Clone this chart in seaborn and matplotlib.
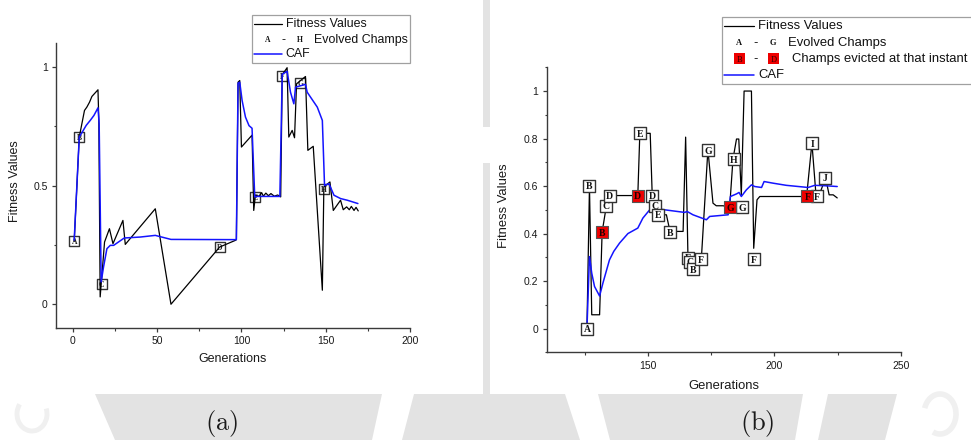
import matplotlib
matplotlib.use("Agg")
import matplotlib.pyplot as plt
import seaborn as sns
from matplotlib.patches import Rectangle, Polygon, Arc
from matplotlib.lines import Line2D
from matplotlib.ticker import MultipleLocator, FuncFormatter

# ---------------- run (a) ----------------
gen_a = [0.8, 3.8, 6.9, 8.3, 9.9, 11.3, 14.9, 15.4, 16.2, 18.8, 21.7, 23.8, 29.7, 31.1,
         48.9, 58.2, 87.1, 96.4, 97.0, 98.0, 99.0, 100.0, 106.3, 107.3, 108.3, 110.5,
         112.0, 113.0, 114.5, 116.0, 117.5, 119.5, 121.5, 123.3, 124.2, 127.1, 128.1,
         130.1, 131.5, 132.7, 138.0, 139.4, 142.6, 148.0, 148.9, 152.5, 154.5, 158.8,
         160.4, 162.4, 164.0, 165.2, 166.8, 168.0, 169.3]
fit_a = [0.265, 0.704, 0.816, 0.830, 0.851, 0.875, 0.903, 0.774, 0.031, 0.262, 0.318,
         0.255, 0.353, 0.252, 0.402, 0.0, 0.241, 0.269, 0.272, 0.935, 0.942, 0.662,
         0.712, 0.395, 0.459, 0.455, 0.470, 0.455, 0.468, 0.457, 0.466, 0.455, 0.460,
         0.452, 0.966, 0.996, 0.704, 0.732, 0.701, 0.928, 0.959, 0.648, 0.665, 0.059,
         0.494, 0.515, 0.395, 0.438, 0.398, 0.410, 0.398, 0.412, 0.395, 0.408, 0.393]

caf_gen_a = [0.8, 3.8, 6.0, 7.9, 10.3, 12.5, 14.9, 15.6, 16.8, 18.2, 20.2, 22.2, 24.2,
             30.5, 40.0, 48.9, 50.5, 58.2, 97.0, 98.0, 99.0, 100.4, 102.4, 104.5, 106.3,
             107.9, 109.3, 122.8, 124.2, 127.1, 129.1, 131.1, 132.1, 138.0, 139.0, 145.0,
             148.0, 149.3, 151.9, 154.9, 158.8, 162.8, 169.1]
caf_a = [0.27, 0.704, 0.730, 0.753, 0.774, 0.795, 0.827, 0.760, 0.094, 0.157, 0.234,
         0.248, 0.248, 0.279, 0.283, 0.290, 0.287, 0.273, 0.272, 0.931, 0.935, 0.858,
         0.788, 0.752, 0.741, 0.452, 0.454, 0.454, 0.968, 0.981, 0.893, 0.844, 0.914,
         0.926, 0.893, 0.830, 0.774, 0.500, 0.508, 0.459, 0.445, 0.438, 0.424]

champ_a = ["A", "B", "C", "D", "E", "F", "G", "H"]
champ_gen_a = [0.8, 3.8, 17.0, 87.1, 108.3, 124.0, 135.0, 148.7]
champ_fit_a = [0.265, 0.704, 0.086, 0.241, 0.452, 0.963, 0.933, 0.487]

# ---------------- run (b) ----------------
gen_b = [125.9, 126.9, 127.8, 130.9, 131.9, 133.6, 134.8, 146.0, 146.8, 150.9, 151.7,
         152.9, 154.0, 157.3, 158.3, 158.6, 163.9, 164.9, 165.8, 166.8, 167.8, 171.1,
         173.7, 175.7, 177.0, 179.7, 182.3, 183.6, 185.0, 185.9, 186.9, 188.0, 190.9,
         191.8, 193.1, 194.2, 212.7, 214.8, 216.3, 218.2, 220.2, 221.6, 223.2, 224.8]
fit_b = [0.0, 0.598, 0.058, 0.058, 0.406, 0.518, 0.560, 0.560, 0.822, 0.822, 0.560,
         0.518, 0.479, 0.479, 0.430, 0.409, 0.409, 0.806, 0.310, 0.270, 0.255, 0.292,
         0.753, 0.528, 0.517, 0.517, 0.511, 0.713, 0.798, 0.798, 0.563, 1.0, 1.0,
         0.338, 0.542, 0.556, 0.556, 0.781, 0.577, 0.577, 0.634, 0.563, 0.563, 0.550]

caf_gen_b = [125.9, 126.9, 127.8, 128.9, 130.9, 132.2, 134.8, 136.5, 138.8, 142.1,
             146.0, 148.0, 150.7, 154.6, 158.0, 164.5, 165.5, 167.8, 173.1, 174.4,
             181.7, 182.6, 185.0, 186.0, 186.9, 188.9, 190.9, 192.2, 194.9, 195.9,
             199.5, 204.7, 213.3, 215.9, 220.6, 224.8]
caf_b = [0.0, 0.303, 0.233, 0.177, 0.137, 0.191, 0.289, 0.325, 0.360, 0.400, 0.423,
         0.465, 0.500, 0.503, 0.498, 0.489, 0.493, 0.479, 0.458, 0.472, 0.479, 0.556,
         0.567, 0.573, 0.556, 0.584, 0.605, 0.598, 0.594, 0.619, 0.612, 0.603, 0.594,
         0.603, 0.601, 0.598]

champ_b = ["A", "B", "C", "D", "E", "D", "C", "E", "B", "E", "C", "B", "F", "G", "H",
           "G", "F", "I", "F", "J"]
champ_gen_b = [125.9, 126.9, 133.6, 134.9, 146.8, 151.8, 152.9, 154.0, 158.8, 165.8,
               166.8, 167.9, 171.0, 173.9, 183.9, 187.1, 191.8, 214.9, 216.9, 220.1]
champ_fit_b = [0.0, 0.601, 0.518, 0.560, 0.822, 0.560, 0.518, 0.479, 0.406, 0.299,
               0.282, 0.250, 0.292, 0.751, 0.713, 0.511, 0.292, 0.781, 0.558, 0.634]

evicted_b = ["B", "D", "G", "F"]
evicted_gen_b = [131.9, 146.0, 182.5, 213.0]
evicted_fit_b = [0.406, 0.560, 0.511, 0.557]

# ---------------- styling ----------------
sns.set_style("ticks")
plt.rcParams["font.family"] = ["Liberation Sans", "DejaVu Sans"]
plt.rcParams["mathtext.fontset"] = "cm"

W, H = 971, 440
BLUE = "#1414ff"
RED = "#ee0000"
AXC = "#3a3a3a"
SERIF = "Liberation Serif"


def fx(px):
    return px / W


def fy(py):
    return 1 - py / H


fig = plt.figure(figsize=(W / 100, H / 100), dpi=100)
fig.patch.set_facecolor("white")

# page background: grey strip between the panels and the caption band
bg = "#e3e3e3"
fig.add_artist(Rectangle((fx(482.7), fy(127)), fx(7.3), 127 / H, transform=fig.transFigure,
                         facecolor=bg, edgecolor="none", zorder=-2))
fig.add_artist(Rectangle((fx(482.7), fy(394)), fx(7.3), (394 - 163) / H, transform=fig.transFigure,
                         facecolor=bg, edgecolor="none", zorder=-2))
fig.add_artist(Rectangle((0, 0), 1, fy(394), transform=fig.transFigure,
                         facecolor=bg, edgecolor="none", zorder=-2))
stripes = [
    [(0, 394), (95, 394), (115, 440), (0, 440)],
    [(382, 394), (414, 394), (402, 440), (372, 440)],
    [(565, 394), (598, 394), (610, 440), (580, 440)],
    [(803, 394), (828, 394), (818, 440), (795, 440)],
    [(897, 394), (971, 394), (971, 440), (885, 440)],
]
for poly in stripes:
    fig.add_artist(Polygon([(fx(a), fy(b)) for a, b in poly], closed=True,
                           transform=fig.transFigure, facecolor="white",
                           edgecolor="none", zorder=-1))
# faint seal marks in the caption band
fig.add_artist(Arc((fx(32), fy(414)), 30 / W, 34 / H, theta1=120, theta2=400,
                   transform=fig.transFigure, color="#f0f0f0", linewidth=3.5, zorder=-0.5))
fig.add_artist(Arc((fx(940), fy(414)), 32 / W, 40 / H, theta1=-100, theta2=140,
                   transform=fig.transFigure, color="#f0f0f0", linewidth=4, zorder=-0.5))

ax_a = fig.add_axes([fx(56), fy(328), 354 / W, 285 / H])
ax_b = fig.add_axes([fx(546.7), fy(352.3), 354.3 / W, 285 / H])

fmt = FuncFormatter(lambda v, p: f"{v:g}")


def style_axes(ax, xlim, xmaj, xmin, ymaj, ymin):
    ax.set_xlim(*xlim)
    ax.set_ylim(-0.1, 1.1)
    for s in ["top", "right"]:
        ax.spines[s].set_visible(False)
    for s in ["left", "bottom"]:
        ax.spines[s].set_color(AXC)
        ax.spines[s].set_linewidth(1.0)
    ax.xaxis.set_major_locator(MultipleLocator(xmaj))
    ax.xaxis.set_minor_locator(MultipleLocator(xmin))
    ax.yaxis.set_major_locator(MultipleLocator(ymaj))
    ax.yaxis.set_minor_locator(MultipleLocator(ymin))
    ax.xaxis.set_major_formatter(fmt)
    ax.yaxis.set_major_formatter(fmt)
    ax.tick_params(which="major", direction="out", length=3, width=0.9, color=AXC,
                   labelsize=7.5, pad=3, labelcolor="#1a1a1a")
    ax.tick_params(which="minor", direction="out", length=1.8, width=0.8, color=AXC)


style_axes(ax_a, (-10, 200), 50, 25, 0.5, 0.25)
style_axes(ax_b, (110, 250), 50, 25, 0.2, 0.1)

# ---------------- panel (a) ----------------
sns.scatterplot(x=champ_gen_a, y=champ_fit_a, marker="s", s=58, color="white",
                edgecolor="#333333", linewidth=1.0, ax=ax_a, zorder=2)
for lt, gx, gyv in zip(champ_a, champ_gen_a, champ_fit_a):
    ax_a.text(gx, gyv, lt, ha="center", va="center_baseline", fontsize=5.5,
              family=SERIF, weight="bold", color="#222222", zorder=2.5)
sns.lineplot(x=gen_a, y=fit_a, sort=False, estimator=None, color="black",
             linewidth=0.9, ax=ax_a, zorder=3)
sns.lineplot(x=caf_gen_a, y=caf_a, sort=False, estimator=None, color=BLUE,
             linewidth=1.1, ax=ax_a, zorder=4)

# ---------------- panel (b) ----------------
sns.lineplot(x=gen_b, y=fit_b, sort=False, estimator=None, color="black",
             linewidth=0.9, ax=ax_b, zorder=3)
sns.lineplot(x=caf_gen_b, y=caf_b, sort=False, estimator=None, color=BLUE,
             linewidth=1.1, ax=ax_b, zorder=4)
z = 5
for lt, gx, gyv in zip(champ_b, champ_gen_b, champ_fit_b):
    sns.scatterplot(x=[gx], y=[gyv], marker="s", s=68, color="white",
                    edgecolor="#333333", linewidth=1.0, ax=ax_b, zorder=z)
    ax_b.text(gx, gyv, lt, ha="center", va="center_baseline", fontsize=7,
              family=SERIF, weight="bold", color="#111111", zorder=z + 1)
    z += 2
for lt, gx, gyv in zip(evicted_b, evicted_gen_b, evicted_fit_b):
    sns.scatterplot(x=[gx], y=[gyv], marker="s", s=68, color=RED,
                    edgecolor="#555555", linewidth=0.8, ax=ax_b, zorder=z)
    ax_b.text(gx, gyv, lt, ha="center", va="center_baseline", fontsize=7,
              family=SERIF, weight="bold", color="#200000", zorder=z + 1)
    z += 2

# ---------------- axis labels ----------------
for ax, xl_pos, yl_pos, fs in [(ax_a, (0.5, -0.109), (-0.116, 0.516), 9.0),
                               (ax_b, (0.4996, -0.117), (-0.1205, 0.513), 9.4)]:
    ax.set_xlabel("Generations", fontsize=fs, color="#1a1a1a")
    ax.set_ylabel("Fitness Values", fontsize=fs, color="#1a1a1a")
    ax.xaxis.set_label_coords(*xl_pos)
    ax.yaxis.set_label_coords(*yl_pos)
    ax.xaxis.label.set_va("center")
    ax.yaxis.label.set_va("center")

# ---------------- legends ----------------
def leg_line(x0, x1, y, color, lw):
    fig.add_artist(Line2D([fx(x0), fx(x1)], [fy(y), fy(y)], transform=fig.transFigure,
                          color=color, linewidth=lw, zorder=11))


def leg_text(x, y, s, fs, **kw):
    fig.text(fx(x), fy(y), s, fontsize=fs, va="center", zorder=11, color="#111111", **kw)


# legend of panel (a)
fig.add_artist(Rectangle((fx(252), fy(63.3)), (410 - 252) / W, 48 / H, transform=fig.transFigure,
                         facecolor="white", edgecolor="#a0a0a0", linewidth=0.9, zorder=10))
leg_line(254, 282, 24.3, "black", 0.9)
leg_text(285.5, 24.3, "Fitness Values", 8.9)
leg_text(267.7, 39.7, "A", 5.5, ha="center", family=SERIF, weight="bold")
leg_text(283.7, 39.7, "-", 8.9, ha="center")
leg_text(300, 39.7, "H", 5.5, ha="center", family=SERIF, weight="bold")
leg_text(314.3, 39.7, "Evolved Champs", 8.9)
leg_line(254, 282, 54.3, BLUE, 1.1)
leg_text(285.5, 54.3, "CAF", 8.9)

# legend of panel (b)
fig.add_artist(Rectangle((fx(722), fy(84.3)), (980 - 722) / W, 67 / H, transform=fig.transFigure,
                         facecolor="white", edgecolor="#a0a0a0", linewidth=0.9, zorder=10))
leg_line(724.3, 754, 26.3, "black", 0.9)
leg_text(758.3, 26.3, "Fitness Values", 9.4)
leg_text(739, 42.7, "A", 6, ha="center", family=SERIF, weight="bold")
leg_text(756, 42.7, "-", 9.4, ha="center")
leg_text(773, 42.7, "G", 6, ha="center", family=SERIF, weight="bold")
leg_text(788.3, 42.7, "Evolved Champs", 9.4)
for cx, lt in [(739.3, "B"), (773.3, "D")]:
    fig.add_artist(Rectangle((fx(cx - 5.5), fy(59 + 5.5)), 11 / W, 11 / H, transform=fig.transFigure,
                             facecolor=RED, edgecolor="none", zorder=11))
    fig.text(fx(cx), fy(59), lt, fontsize=6, ha="center", va="center_baseline",
             family=SERIF, color="#300000", zorder=12)
leg_text(756, 59, "-", 9.4, ha="center")
leg_text(791.7, 59, "Champs evicted at that instant", 9.4)
leg_line(724.3, 754, 75, BLUE, 1.1)
leg_text(758.3, 75, "CAF", 9.4)

# ---------------- captions ----------------
fig.text(fx(222), fy(423), r"$\mathrm{(a)}$", ha="center", va="center", fontsize=19, color="#1a1a1a")
fig.text(fx(757), fy(423), r"$\mathrm{(b)}$", ha="center", va="center", fontsize=19, color="#1a1a1a")

fig.savefig("out.png", dpi=100, facecolor=fig.get_facecolor())
